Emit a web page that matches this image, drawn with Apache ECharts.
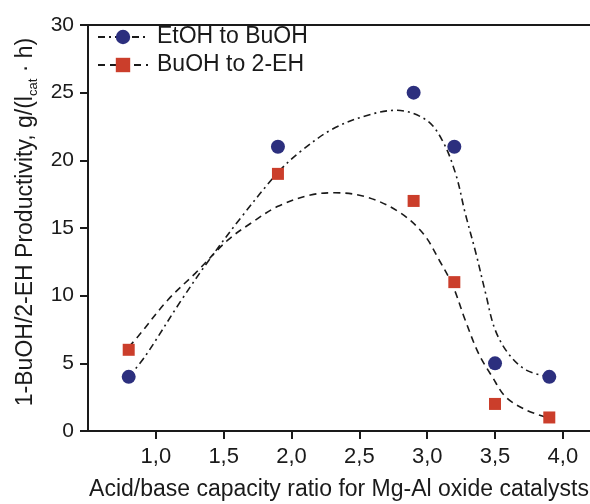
<!DOCTYPE html>
<html>
<head>
<meta charset="utf-8">
<script src="https://cdn.jsdelivr.net/npm/echarts@6/dist/echarts.min.js"></script>
<style>
  html, body { margin: 0; padding: 0; background: #fff; }
  #main { width: 590px; height: 504px; }
</style>
</head>
<body>
<div id="main"></div>
<script>
// measured points
var ratio = [0.8, 1.9, 2.9, 3.2, 3.5, 3.9];
var etohBuoh = [4, 21, 25, 21, 5, 4];
var buohEh = [6, 19, 17, 11, 2, 1];

// fitted curves
var etohFitX = [0.8, 0.92, 1.19, 1.39, 1.63, 1.9, 2.06, 2.3, 2.55, 2.77, 2.99, 3.11, 3.21, 3.28, 3.36, 3.43, 3.5, 3.6, 3.73, 3.9];
var etohFitY = [4, 5.5, 9.7, 12.6, 15.8, 19.1, 20.6, 22.3, 23.3, 23.7, 23.0, 21.5, 19.0, 16.1, 13.1, 10.2, 7.5, 5.7, 4.5, 4.0];
var buohFitX = [0.8, 0.87, 1.09, 1.29, 1.53, 1.7, 1.9, 2.14, 2.32, 2.55, 2.79, 2.97, 3.09, 3.19, 3.28, 3.38, 3.48, 3.58, 3.73, 3.88];
var buohFitY = [6.2, 7.0, 9.7, 11.65, 14.1, 15.35, 16.6, 17.44, 17.6, 17.3, 16.2, 14.6, 12.6, 10.7, 8.2, 5.7, 4.0, 2.5, 1.55, 1.0];

var names = ['EtOH to BuOH', 'BuOH to 2-EH'];

function pairs(xs, ys) {
    return xs.map(function (x, i) { return [x, ys[i]]; });
}

var font = 'Liberation Sans, Arial, sans-serif';
var ink = '#1a1a1a';
var blue = '#2c2f7e';
var red = '#cb3e2b';

var myChart = echarts.init(document.getElementById('main'));
var option = {
    animation: false,
    grid: { left: 88, top: 25, right: 0, bottom: 73, outerBoundsMode: 'none' },
    legend: {
        data: names,
        orient: 'vertical',
        left: 92,
        top: 20,
        itemWidth: 50,
        itemHeight: 18,
        itemGap: 4,
        textStyle: { fontFamily: font, fontSize: 23, lineHeight: 24, color: ink, padding: [0, 0, 0, 4] }
    },
    xAxis: [{
        type: 'value',
        min: 0.5,
        max: 4.2,
        interval: 0.5,
        splitLine: { show: false },
        axisLine: { onZero: false, lineStyle: { color: ink, width: 2 } },
        axisTick: { length: 8, lineStyle: { color: ink, width: 2 } },
        axisLabel: {
            margin: 15, fontFamily: font, fontSize: 22, color: ink,
            showMinLabel: false, showMaxLabel: false,
            formatter: function (v) { return v.toFixed(1).replace('.', ','); }
        },
        name: 'Acid/base capacity ratio for Mg-Al oxide catalysts',
        nameLocation: 'middle',
        nameGap: 47,
        nameTextStyle: { fontFamily: font, fontSize: 23, color: ink }
    }, {
        type: 'value',
        position: 'top',
        min: 0.5,
        max: 4.2,
        axisLine: { onZero: false, lineStyle: { color: ink, width: 2 } },
        axisTick: { show: false },
        axisLabel: { show: false },
        splitLine: { show: false }
    }],
    yAxis: {
        type: 'value',
        min: 0,
        max: 30,
        interval: 5,
        splitLine: { show: false },
        axisLine: { show: true, lineStyle: { color: ink, width: 2 } },
        axisTick: { show: true, length: 8, lineStyle: { color: ink, width: 2 } },
        axisLabel: { margin: 14, fontFamily: font, fontSize: 21, color: ink },
        name: '{m|1-BuOH/2-EH Productivity, g/(l}{s|cat}{m| · h)}',
        nameLocation: 'middle',
        nameGap: 38,
        nameTextStyle: {
            fontFamily: font, fontSize: 23, color: ink,
            padding: [0, 0, 0, 12],
            rich: {
                m: { fontFamily: font, fontSize: 23, color: ink, lineHeight: 28 },
                s: { fontFamily: font, fontSize: 13, color: ink, lineHeight: 28, verticalAlign: 'bottom', padding: [7, 0, 0, 0] }
            }
        }
    },
    series: [{
        name: names[0],
        type: 'line',
        data: pairs(etohFitX, etohFitY),
        smooth: 0.35,
        symbol: 'circle',
        showSymbol: false,
        itemStyle: { color: blue },
        lineStyle: { color: ink, width: 1.6, type: [7, 4, 2, 4] },
        z: 2
    }, {
        name: names[1],
        type: 'line',
        data: pairs(buohFitX, buohFitY),
        smooth: 0.35,
        symbol: 'rect',
        showSymbol: false,
        itemStyle: { color: red },
        lineStyle: { color: ink, width: 1.6, type: [7, 5] },
        z: 2
    }, {
        name: 'EtOH points',
        type: 'scatter',
        data: pairs(ratio, etohBuoh),
        symbol: 'circle',
        symbolSize: 14,
        itemStyle: { color: blue, opacity: 1 },
        z: 3
    }, {
        name: 'BuOH points',
        type: 'scatter',
        data: pairs(ratio, buohEh),
        symbol: 'rect',
        symbolSize: 12,
        itemStyle: { color: red, opacity: 1 },
        z: 3
    }]
};
myChart.setOption(option);
</script>
</body>
</html>
